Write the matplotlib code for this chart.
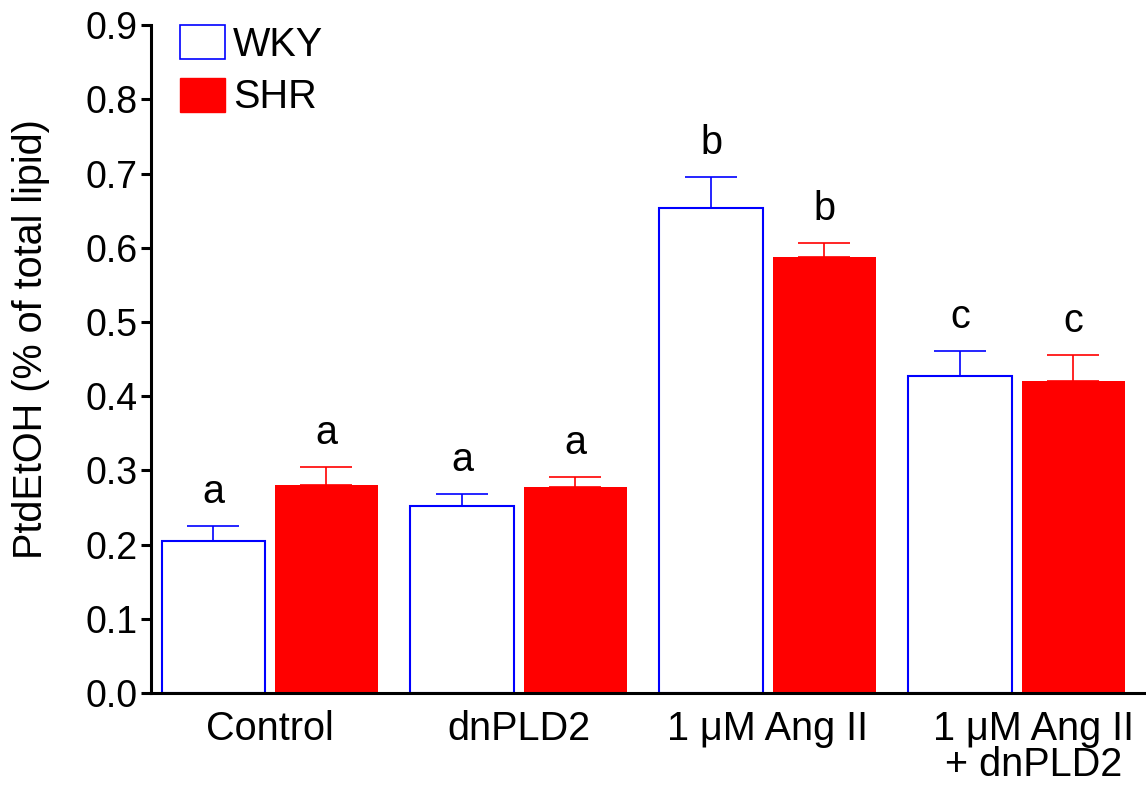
import matplotlib
matplotlib.use("Agg")
import matplotlib.pyplot as plt
import matplotlib.transforms as mtransforms
import numpy as np
from matplotlib.patches import Patch

plt.rcParams['font.family'] = ['Liberation Sans', 'DejaVu Sans']

categories = ["Control", "dnPLD2", "1 \u03bcM Ang II", "1 \u03bcM Ang II\n+ dnPLD2"]
wky_mean = [0.205, 0.252, 0.653, 0.427]
wky_err = [0.020, 0.016, 0.042, 0.034]
shr_mean = [0.280, 0.277, 0.588, 0.420]
shr_err = [0.024, 0.014, 0.018, 0.035]
wky_letters = ["a", "a", "b", "c"]
shr_letters = ["a", "a", "b", "c"]

BLUE = "#0000ff"
RED = "#ff0000"
FS = 28.5

fig = plt.figure(figsize=(11.46, 7.89), dpi=100)
ax = fig.add_axes([0.1318, 0.1217, 0.8682, 0.8465])

x = np.arange(len(categories))
off = 0.227
w = 0.414

ax.bar(x - off, wky_mean, w, facecolor="white", edgecolor=BLUE, linewidth=1.5, zorder=2)
ax.bar(x + off, shr_mean, w, facecolor=RED, edgecolor=RED, linewidth=0, zorder=2)

# upper-only error bars
ax.errorbar(x - off, wky_mean, yerr=[np.zeros(4), wky_err], fmt="none",
            ecolor=BLUE, elinewidth=1.2, capsize=19, capthick=1.2, zorder=1)
ax.errorbar(x + off, shr_mean, yerr=[np.zeros(4), shr_err], fmt="none",
            ecolor=RED, elinewidth=1.2, capsize=19, capthick=1.2, zorder=1)

for xi, m, e, t in zip(x - off, wky_mean, wky_err, wky_letters):
    ax.text(xi, m + e + 0.031, t, ha="center", va="baseline", fontsize=FS)
for xi, m, e, t in zip(x + off, shr_mean, shr_err, shr_letters):
    ax.text(xi, m + e + 0.031, t, ha="center", va="baseline", fontsize=FS)

ax.set_xlim(-0.476, 3.52)
ax.set_ylim(0, 0.9)
ax.set_yticks(np.arange(0, 0.91, 0.1))
ax.set_yticklabels([f"{v:.1f}" for v in np.arange(0, 0.91, 0.1)], fontsize=27)
ax.set_xticks(x)
ax.set_xticklabels(categories, fontsize=FS, linespacing=0.95)
ax.tick_params(axis="x", length=0, pad=12)
ax.tick_params(axis="y", length=7, width=2.2, pad=3)

# nudge the two-line label to the right
last = ax.get_xticklabels()[-1]
last.set_transform(last.get_transform() +
                   mtransforms.ScaledTranslation(0.17, 0, fig.dpi_scale_trans))

for s in ["top", "right"]:
    ax.spines[s].set_visible(False)
for s in ["left", "bottom"]:
    ax.spines[s].set_linewidth(2.2)

ax.set_ylabel("PtdEtOH (% of total lipid)", fontsize=FS)
ax.yaxis.set_label_coords(-0.1015, 0.53)

handles = [Patch(facecolor="white", edgecolor=BLUE, linewidth=1.2),
           Patch(facecolor=RED, edgecolor=RED)]
ax.legend(handles, ["WKY", "SHR"], loc="upper left", bbox_to_anchor=(0.029, 1.0),
          frameon=False, fontsize=FS, handlelength=1.14, handleheight=0.95,
          handletextpad=0.2, labelspacing=0.35, borderaxespad=0, borderpad=0)

fig.savefig("out.png", dpi=100)
